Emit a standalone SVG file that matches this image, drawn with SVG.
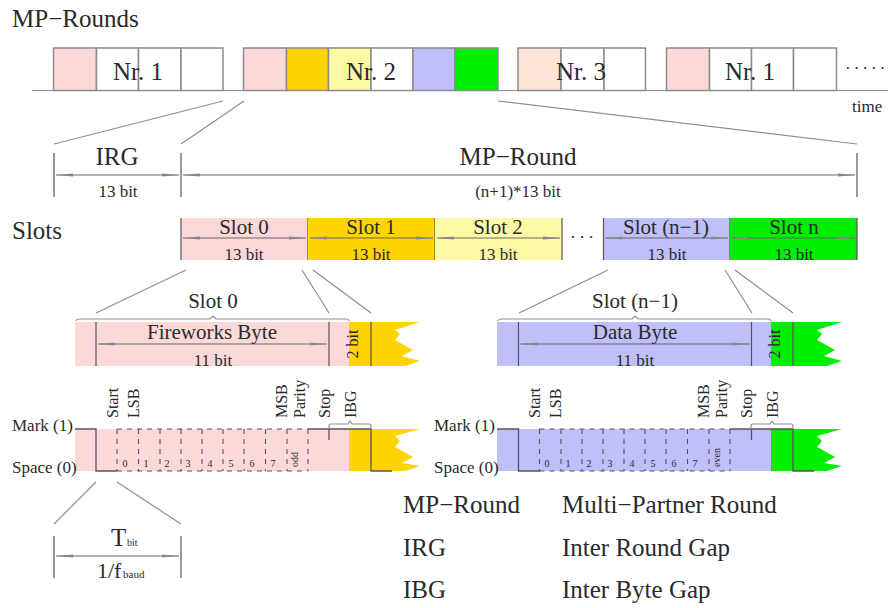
<svg xmlns="http://www.w3.org/2000/svg" width="888" height="608" viewBox="0 0 888 608">
<style>
text{font-family:"Liberation Serif","Times New Roman",serif;fill:#2a2a2a}
.t25{font-size:25px}.t22{font-size:22px}.t21{font-size:21px}.t17{font-size:17px}.t16{font-size:16px}.t11{font-size:11px}.t10{font-size:10px}
.m{text-anchor:middle}
.box{stroke:#8c8c8c;stroke-width:1.5;fill:#fff}
.pink{fill:#fcd9d9}.gold{fill:#ffd400}.ly{fill:#fdfaa6}.blue{fill:#bfbffa}.green{fill:#00ee00}.peach{fill:#fde4d6}
.ln{stroke:#8f8f8f;stroke-width:1.2;fill:none}
.tick{stroke:#555;stroke-width:1.2;fill:none}
.arr{stroke:#666;stroke-width:1.2;fill:none;marker-start:url(#ah);marker-end:url(#ah)}
.sig{stroke:#555;stroke-width:1.3;fill:none}
.dash{stroke:#555;stroke-width:1.1;fill:none;stroke-dasharray:5 5}
</style>
<defs>
<marker id="ah" viewBox="0 0 18 6" refX="17" refY="3" markerWidth="18" markerHeight="6" markerUnits="userSpaceOnUse" orient="auto-start-reverse">
<path d="M0 1.500L17 3L0 4.500Z" fill="#888"/>
</marker>
</defs>
<rect width="888" height="608" fill="#fff"/>

<g id="title-rounds"><text class="t25" x="12" y="27">MP−Rounds</text></g>

<g id="timeline">
<path class="ln" d="M32 90.500H888"/>
<text x="852" y="112" class="t17">time</text>
<text x="845" y="74" class="t17" letter-spacing="3">·····</text>
</g>

<g id="round-1a">
<rect class="box pink" x="53.500" y="48" width="43" height="42.500"/>
<rect class="box" x="96.500" y="48" width="42" height="42.500"/>
<rect class="box" x="138.500" y="48" width="42.500" height="42.500"/>
<rect class="box" x="181" y="48" width="42" height="42.500"/>
<text class="t25 m" x="138" y="80">Nr. 1</text>
</g>
<g id="round-2">
<rect class="box pink" x="243.500" y="48" width="43" height="42.500"/>
<rect class="box gold" x="286.500" y="48" width="42" height="42.500"/>
<rect class="box ly" x="328.500" y="48" width="42.500" height="42.500"/>
<rect class="box" x="371" y="48" width="42" height="42.500"/>
<rect class="box blue" x="413" y="48" width="42" height="42.500"/>
<rect class="box green" x="455" y="48" width="43" height="42.500"/>
<text class="t25 m" x="371" y="80">Nr. 2</text>
</g>
<g id="round-3">
<rect class="box peach" x="518" y="48" width="43" height="42.500"/>
<rect class="box" x="561" y="48" width="43" height="42.500"/>
<rect class="box" x="604" y="48" width="41.500" height="42.500"/>
<text class="t25 m" x="581" y="80">Nr. 3</text>
</g>
<g id="round-1b">
<rect class="box pink" x="666.500" y="48" width="43" height="42.500"/>
<rect class="box" x="709.500" y="48" width="42" height="42.500"/>
<rect class="box" x="751.500" y="48" width="42" height="42.500"/>
<rect class="box" x="793.500" y="48" width="43" height="42.500"/>
<text class="t25 m" x="750" y="80">Nr. 1</text>
</g>

<g id="connectors">
<path class="ln" d="M223 101L54 144M244 101L181 144M498 101L857 144"/>
<path class="ln" d="M186 270L96 313M302 270L329 313M313 270L371 313"/>
<path class="ln" d="M608 270L519 313M725 270L752 313M735 270L793 313"/>
<path class="ln" d="M96 482L54 524M117 482L181 524"/>
</g>

<g id="irg">
<path class="tick" d="M54 153V197M181 153V197"/>
<path class="arr" d="M56 175H179"/>
<text class="t25 m" x="117" y="165">IRG</text>
<text class="t17 m" x="118" y="197">13 bit</text>
</g>
<g id="mp-round">
<path class="tick" d="M857 153V197"/>
<path class="arr" d="M183 175H855"/>
<text class="t25 m" x="518" y="165">MP−Round</text>
<text class="t17 m" x="518" y="197">(n+1)*13 bit</text>
</g>

<g id="slots-label"><text class="t25" x="12" y="239">Slots</text></g>

<g id="slot-0"><rect class="pink" x="181" y="218" width="127" height="42"/><path class="tick" d="M181 218V260M308 218V260"/><path class="arr" d="M183 238H306"/><text class="t21 m" x="244" y="234">Slot 0</text><text class="t17 m" x="244" y="260">13 bit</text></g>
<g id="slot-1"><rect class="gold" x="308" y="218" width="127" height="42"/><path class="tick" d="M435 218V260"/><path class="arr" d="M310 238H433"/><text class="t21 m" x="371" y="234">Slot 1</text><text class="t17 m" x="371" y="260">13 bit</text></g>
<g id="slot-2"><rect class="ly" x="435" y="218" width="127" height="42"/><path class="tick" d="M562 218V260"/><path class="arr" d="M437 238H560"/><text class="t21 m" x="498" y="234">Slot 2</text><text class="t17 m" x="498" y="260">13 bit</text></g>
<g id="slots-dots"><text class="t17" x="570" y="243" letter-spacing="3.500">···</text></g>
<g id="slot-n1"><rect class="blue" x="603.500" y="218" width="126.500" height="42"/><path class="tick" d="M603.500 218V260M730 218V260"/><path class="arr" d="M605.500 238H728"/><text class="t21 m" x="666" y="234">Slot (n−1)</text><text class="t17 m" x="667" y="260">13 bit</text></g>
<g id="slot-n"><rect class="green" x="730" y="218" width="127" height="42"/><path class="tick" d="M857 218V260"/><path class="arr" d="M732 238H855"/><text class="t21 m" x="794" y="234">Slot n</text><text class="t17 m" x="794" y="260">13 bit</text></g>

<g id="detail-slot-0">
<text class="t21 m" x="213" y="308">Slot 0</text>
<path class="ln" d="M76 321Q76 319 80 319H210L213 316L216 319H346Q349 319 349 321"/>
<path class="gold" d="M349 322H420L395 330L400 334L395 340L413 350L402 356L420 361L405 366H349Z"/>
<rect class="pink" x="75" y="322" width="274" height="44"/>
<path class="tick" d="M96 322V366M329 322V366M371 322V366"/>
<path class="arr" d="M98 344H327"/>
<text class="t21 m" x="212" y="339">Fireworks Byte</text>
<text class="t17 m" x="213" y="366">11 bit</text>
<text class="t16 m" transform="translate(358 344) rotate(-90)">2 bit</text>
</g>

<g id="detail-slot-n1">
<text class="t21 m" x="635" y="308">Slot (n−1)</text>
<path class="ln" d="M498 321Q498 319 502 319H632L635 316L638 319H768Q771 319 771 321"/>
<path class="green" d="M771 322H842L817 330L822 334L817 340L835 350L824 356L842 361L827 366H771Z"/>
<rect class="blue" x="497" y="322" width="274" height="44"/>
<path class="tick" d="M518.500 322V366M751.500 322V366M793 322V366"/>
<path class="arr" d="M520.500 344H749.500"/>
<text class="t21 m" x="635" y="339">Data Byte</text>
<text class="t17 m" x="635" y="366">11 bit</text>
<text class="t16 m" transform="translate(780 344) rotate(-90)">2 bit</text>
</g>

<g id="waveform-fireworks">
<path class="gold" d="M349 429H420L395 436L400 441L395 447L413 457L402 463L420 466L405 471H349Z"/>
<rect class="pink" x="75" y="429" width="274" height="42"/>
<path class="sig" d="M75 429H96V471H117M308 429H371V471H392M329 429V440"/>
<path class="dash" d="M117 429V471M138.500 429V471M160 429V471M181 429V471M202 429V471M223 429V471M244 429V471M265.500 429V471M287 429V471M308 429V471"/>
<path class="dash" d="M117 429H308M117 471H308"/>
<path class="ln" d="M329 429V426Q329 424 331 424H348L350 421L352 424H369Q371 424 371 426V429"/>
<text class="t16" transform="translate(118 418) rotate(-90)">Start</text>
<text class="t16" transform="translate(139 418) rotate(-90)">LSB</text>
<text class="t16" transform="translate(287 418) rotate(-90)">MSB</text>
<text class="t16" transform="translate(305 418) rotate(-90)">Parity</text>
<text class="t16" transform="translate(330 418) rotate(-90)">Stop</text>
<text class="t16" transform="translate(356 418) rotate(-90)">IBG</text>
<text class="t10 m" x="125" y="467">0</text><text class="t10 m" x="146" y="467">1</text><text class="t10 m" x="167" y="467">2</text><text class="t10 m" x="188" y="467">3</text><text class="t10 m" x="210" y="467">4</text><text class="t10 m" x="231" y="467">5</text><text class="t10 m" x="252" y="467">6</text><text class="t10 m" x="273" y="467">7</text>
<text class="t10" transform="translate(298 467) rotate(-90)">odd</text>
<text class="t17" x="12" y="431">Mark (1)</text>
<text class="t17" x="12" y="473">Space (0)</text>
</g>

<g id="waveform-data">
<path class="green" d="M771 429H842L817 436L822 441L817 447L835 457L824 463L842 466L827 471H771Z"/>
<rect class="blue" x="497" y="429" width="274" height="42"/>
<path class="sig" d="M497 429H518.500V471H540M730 429H793V471H814M751.500 429V440"/>
<path class="dash" d="M539.500 429V471M561 429V471M582 429V471M603 429V471M624 429V471M645 429V471M666 429V471M687.500 429V471M709 429V471M730 429V471"/>
<path class="dash" d="M539.500 429H730M539.500 471H730"/>
<path class="ln" d="M751 429V426Q751 424 753 424H770L772 421L774 424H791Q793 424 793 426V429"/>
<text class="t16" transform="translate(540 418) rotate(-90)">Start</text>
<text class="t16" transform="translate(561 418) rotate(-90)">LSB</text>
<text class="t16" transform="translate(709 418) rotate(-90)">MSB</text>
<text class="t16" transform="translate(727 418) rotate(-90)">Parity</text>
<text class="t16" transform="translate(752 418) rotate(-90)">Stop</text>
<text class="t16" transform="translate(778 418) rotate(-90)">IBG</text>
<text class="t10 m" x="547" y="467">0</text><text class="t10 m" x="568" y="467">1</text><text class="t10 m" x="589" y="467">2</text><text class="t10 m" x="610" y="467">3</text><text class="t10 m" x="632" y="467">4</text><text class="t10 m" x="653" y="467">5</text><text class="t10 m" x="674" y="467">6</text><text class="t10 m" x="695" y="467">7</text>
<text class="t10" transform="translate(720 467) rotate(-90)">even</text>
<text class="t17" x="434" y="431">Mark (1)</text>
<text class="t17" x="434" y="473">Space (0)</text>
</g>

<g id="tbit">
<path class="tick" d="M54 536V578M181 536V578"/>
<path class="arr" d="M56 556H179"/>
<text class="t25" x="111" y="546">T</text><text class="t10" x="127" y="546">bit</text>
<text class="t22" x="97" y="578">1/f</text><text class="t11" x="123" y="578">baud</text>
</g>

<g id="legend">
<text class="t25" x="403" y="513">MP−Round</text><text class="t25" x="562" y="513">Multi−Partner Round</text>
<text class="t25" x="403" y="556">IRG</text><text class="t25" x="562" y="556">Inter Round Gap</text>
<text class="t25" x="403" y="598">IBG</text><text class="t25" x="562" y="598">Inter Byte Gap</text>
</g>
</svg>
